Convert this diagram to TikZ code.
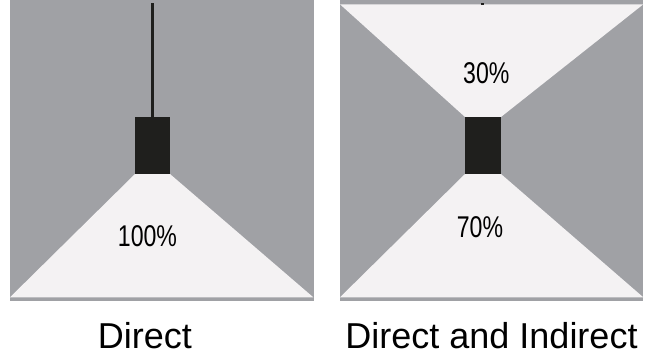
\documentclass[tikz,border=0pt]{standalone}
\usepackage{fontspec}
\setmainfont{Liberation Sans}
\newfontfamily\narrowsans[FakeStretch=0.77]{Liberation Sans}
\usepackage{tikz}

\definecolor{wallgray}{RGB}{160,161,165}
\definecolor{beamwhite}{RGB}{244,242,243}
\definecolor{lampblack}{RGB}{31,31,29}

\begin{document}
\begin{tikzpicture}[x = 1pt, y = -1pt,
  wall/.style = {fill = wallgray},
  beam/.style = {fill = beamwhite},
  lamp/.style = {rectangle, fill = lampblack, inner sep = 0pt, minimum width = 35pt, minimum height = 57pt},
  share/.style = {anchor = base, inner sep = 0pt, font = \narrowsans\fontsize{30}{34}\selectfont},
  caption/.style = {anchor = base, inner sep = 0pt, font = \fontsize{36}{40}\selectfont}]
\useasboundingbox[fill = white] (0,0) rectangle (660,352);

% direct
\fill[wall] (10,0) rectangle (314,300.7);
\node[lamp] (lampD) at (152.5,145.5) {};
\fill[beam] (lampD.south west) -- (lampD.south east) -- (313.3,297.3) -- (10,297.3) -- cycle;
\coordinate (hookD) at (152.5,3.3);
\draw[lampblack, line width = 2.3pt] (hookD) -- (lampD.north);
\node[share] (shareD) at (147.5,246.7) {100\%};
\node[caption] (capD) at (145,348.3) {Direct};

% direct and indirect
\fill[wall] (340,0) rectangle (643.3,300.7);
\node[lamp, minimum width = 36pt] (lampI) at (483,145.5) {};
\fill[beam] (340,4.3) -- (643.3,4.3) -- (lampI.north east) -- (lampI.north west) -- cycle;
\fill[beam] (lampI.south west) -- (lampI.south east) -- (643.3,297.3) -- (340,297.3) -- cycle;
\fill[lampblack] (481.4,3) rectangle (484.1,5);
\node[share] (shareUp) at (486.3,83.3) {30\%};
\node[share] (shareDown) at (480,237.3) {70\%};
\node[caption] (capI) at (491.5,348.3) {Direct and Indirect};
\end{tikzpicture}
\end{document}
